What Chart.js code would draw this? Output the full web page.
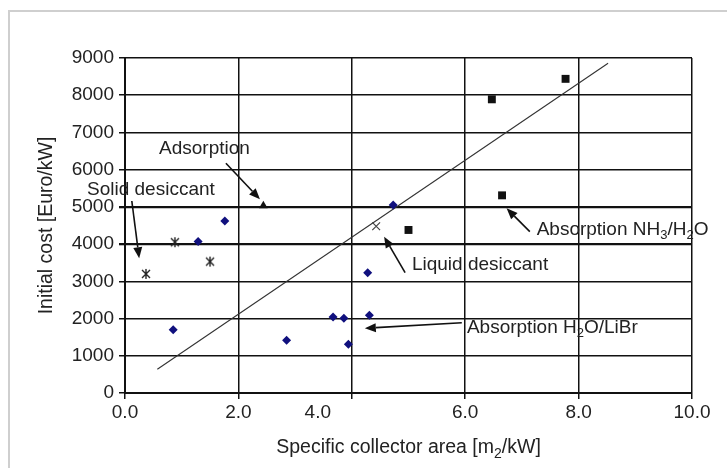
<!DOCTYPE html>
<html>
<head>
<meta charset="utf-8">
<script src="https://cdn.jsdelivr.net/npm/chart.js@4.4.1/dist/chart.umd.min.js"></script>
<style>
html,body{margin:0;padding:0;background:#fff;overflow:hidden;}
#wrap{position:relative;width:727px;height:468px;}
#frame{position:absolute;left:8px;top:10px;width:800px;height:600px;border:2px solid #cfcfcf;}
canvas{position:absolute;left:0;top:0;}
</style>
</head>
<body>
<div id="wrap"><div id="frame"></div><canvas id="costChart" width="727" height="468"></canvas></div>
<script>
const FONT = "'Liberation Sans', Arial, Helvetica, sans-serif";

// x tick labels; the printed "4.0" sits left of its gridline in the original
const xTickLabels = ["0.0", "2.0", "4.0", "6.0", "8.0", "10.0"];
const xTickLabelAt = [0, 2, 3.4, 6, 8, 10];

// solid desiccant (star)
const solidX = [0.37, 0.88, 1.5];
const solidY = [3200, 4050, 3530];
// liquid desiccant (x)
const liquidX = [4.43];
const liquidY = [4480];
// adsorption (triangle)
const adsorpX = [2.44];
const adsorpY = [5030];
// absorption H2O/LiBr (diamond)
const librX = [0.85, 1.29, 1.76, 2.85, 3.67, 3.86, 3.94, 4.28, 4.31, 4.73];
const librY = [1700, 4070, 4620, 1420, 2040, 2010, 1310, 3230, 2090, 5050];
// absorption NH3/H2O (square)
const nh3X = [5.0, 6.47, 6.65, 7.77];
const nh3Y = [4380, 7890, 5310, 8440];
// trend line ends
const trendX = [0.57, 8.52];
const trendY = [640, 8860];

const xTitle = [["Specific collector area [m"], ["2", true], ["/kW]"]];

// labels with arrows, in axis units
const notes = [
  {text: [["Adsorption"]], at: [0.6, 6574], from: [1.78, 6171], to: [2.38, 5204]},
  {text: [["Solid desiccant"]], at: [-0.67, 5473], from: [0.12, 5158], to: [0.25, 3619]},
  {text: [["Absorption NH"], ["3", true], ["/H"], ["2", true], ["O"]], at: [7.26, 4398], from: [7.14, 4334], to: [6.73, 4962]},
  {text: [["Liquid desiccant"]], at: [5.06, 3458], from: [4.94, 3232], to: [4.57, 4199]},
  {text: [["Absorption H"], ["2", true], ["O/LiBr"]], at: [6.03, 1754], from: [5.94, 1889], to: [4.23, 1738]}
];

function pts(xs, ys){ return xs.map((v, i) => ({x: v, y: ys[i]})); }

function starMark(){
  const c = document.createElement("canvas");
  c.width = 12; c.height = 12;
  const g = c.getContext("2d");
  g.strokeStyle = "#222"; g.lineWidth = 1.4;
  g.beginPath();
  g.moveTo(2, 2); g.lineTo(10, 10);
  g.moveTo(10, 2); g.lineTo(2, 10);
  g.moveTo(6, 1); g.lineTo(6, 11);
  g.stroke();
  return c;
}

function richText(ctx, parts, x0, yc, size, align){
  const sub = Math.round(size * 0.7);
  let w = 0;
  parts.forEach(([s, isSub]) => { ctx.font = (isSub ? sub : size) + "px " + FONT; w += ctx.measureText(s).width; });
  let xx = align === "center" ? x0 - w / 2 : x0;
  ctx.textAlign = "left"; ctx.textBaseline = "middle";
  parts.forEach(([s, isSub]) => {
    ctx.font = (isSub ? sub : size) + "px " + FONT;
    ctx.fillText(s, xx, isSub ? yc + size * 0.3 : yc);
    xx += ctx.measureText(s).width;
  });
}

function arrow(ctx, x1, y1, x2, y2){
  const a = Math.atan2(y2 - y1, x2 - x1), L = 11, W = 4.5;
  const bx = x2 - L * Math.cos(a), by = y2 - L * Math.sin(a);
  ctx.strokeStyle = "#111"; ctx.fillStyle = "#111"; ctx.lineWidth = 1.6;
  ctx.beginPath(); ctx.moveTo(x1, y1); ctx.lineTo(bx, by); ctx.stroke();
  ctx.beginPath();
  ctx.moveTo(x2, y2);
  ctx.lineTo(bx - W * Math.sin(a), by + W * Math.cos(a));
  ctx.lineTo(bx + W * Math.sin(a), by - W * Math.cos(a));
  ctx.closePath(); ctx.fill();
}

const notesPlugin = {
  id: "notes",
  afterDraw(chart){
    const {ctx, scales: {x, y}} = chart;
    ctx.save();
    ctx.fillStyle = "#222";
    ctx.font = "19px " + FONT; ctx.textAlign = "center"; ctx.textBaseline = "middle";
    xTickLabels.forEach((t, i) => ctx.fillText(t, x.getPixelForValue(xTickLabelAt[i]), x.top + 20));
    richText(ctx, xTitle, (x.left + x.right) / 2, x.bottom - 20, 19.5, "center");
    notes.forEach(n => {
      arrow(ctx, x.getPixelForValue(n.from[0]), y.getPixelForValue(n.from[1]),
                 x.getPixelForValue(n.to[0]), y.getPixelForValue(n.to[1]));
      ctx.fillStyle = "#222";
      richText(ctx, n.text, x.getPixelForValue(n.at[0]), y.getPixelForValue(n.at[1]), 19, "left");
    });
    ctx.restore();
  }
};

new Chart(document.getElementById("costChart"), {
  type: "scatter",
  data: {
    datasets: [
      {data: pts(librX, librY), pointStyle: "rectRot", pointRadius: 4.5, backgroundColor: "#10107e", borderColor: "#10107e", borderWidth: 0},
      {data: pts(nh3X, nh3Y), pointStyle: "rect", pointRadius: 5.6, backgroundColor: "#111", borderColor: "#111", borderWidth: 0},
      {data: pts(adsorpX, adsorpY), pointStyle: "triangle", pointRadius: 5, backgroundColor: "#111", borderColor: "#111", borderWidth: 0},
      {data: pts(solidX, solidY), pointStyle: starMark(), pointRadius: 6},
      {data: pts(liquidX, liquidY), pointStyle: "crossRot", pointRadius: 5.5, borderColor: "#444", borderWidth: 1.2},
      {data: pts(trendX, trendY), showLine: true, pointRadius: 0, borderColor: "#333", borderWidth: 1.1}
    ]
  },
  options: {
    responsive: false,
    animation: false,
    layout: {padding: {top: 58, right: 35, left: 0, bottom: 0}},
    plugins: {legend: {display: false}, tooltip: {enabled: false}},
    scales: {
      x: {
        type: "linear", min: 0, max: 10,
        ticks: {stepSize: 2, color: "rgba(0,0,0,0)", padding: 4, font: {size: 19, family: FONT}},
        grid: {color: "#111", lineWidth: 1.5, tickLength: 6},
        border: {color: "#111", width: 2},
        afterFit: s => { s.height = 75; }
      },
      y: {
        min: 0, max: 9000,
        ticks: {stepSize: 1000, color: "#222", padding: 5, font: {size: 19, family: FONT},
                callback: v => String(v)},
        grid: {color: "#111", tickLength: 6,
               lineWidth: c => (c.tick && (c.tick.value === 4000 || c.tick.value === 5000)) ? 2.3 : 1.5},
        border: {color: "#111", width: 2},
        title: {display: true, text: "Initial cost [Euro/kW]", color: "#222",
                font: {size: 19.5, family: FONT}, padding: {top: 35, bottom: 0}},
        afterFit: s => { s.width = 125; }
      }
    }
  },
  plugins: [notesPlugin]
});
</script>
</body>
</html>
